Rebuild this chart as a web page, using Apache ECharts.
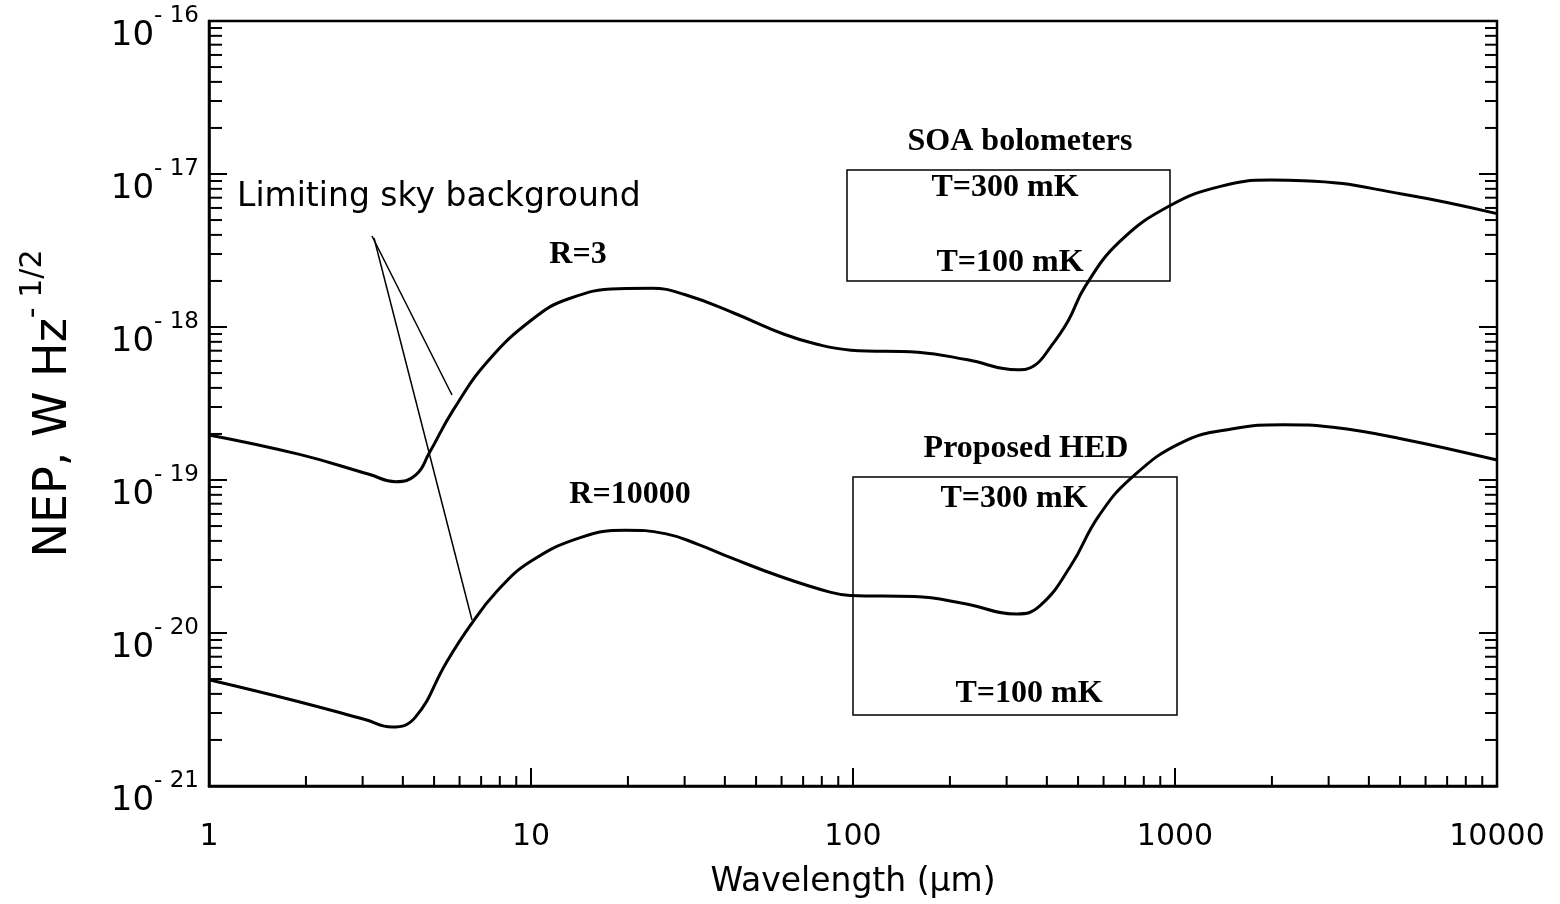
<!DOCTYPE html>
<html>
<head>
<meta charset="utf-8">
<script src="https://cdn.jsdelivr.net/npm/echarts@6/dist/echarts.min.js"></script>
<style>
  html, body { margin: 0; padding: 0; background: #fff; }
  #chart { width: 1560px; height: 904px; }
</style>
</head>
<body>
<div id="chart"></div>
<script>
// ---- Data ----
const wavelengthR3 = [1.0, 1.91, 3.14, 3.80, 4.39, 4.83, 5.72, 7.33, 10.2, 13.1, 18.7, 23.7, 30.0, 42.8, 61.1, 77.8, 98.5, 159, 227, 324, 364, 412, 466, 525, 673, 966, 1384, 1982, 2507, 5118, 10000];
const nepR3 = [1.97e-19, 1.47e-19, 1.09e-19, 9.75e-20, 1.08e-19, 1.50e-19, 2.84e-19, 5.95e-19, 1.14e-18, 1.53e-18, 1.78e-18, 1.79e-18, 1.63e-18, 1.23e-18, 8.97e-19, 7.68e-19, 7.06e-19, 6.84e-19, 6.10e-19, 5.26e-19, 5.56e-19, 7.48e-19, 1.10e-18, 1.83e-18, 3.61e-18, 6.22e-18, 8.30e-18, 9.12e-18, 9.05e-18, 7.38e-18, 5.51e-18];

const wavelengthR10000 = [1.0, 1.85, 3.05, 3.70, 4.37, 5.45, 6.44, 7.85, 9.96, 14.3, 19.6, 26.1, 33.0, 41.7, 59.5, 84.8, 98, 155, 221, 323, 381, 474, 578, 735, 1056, 1513, 2163, 3094, 4988, 10000];
const nepR10000 = [4.95e-21, 3.61e-21, 2.72e-21, 2.43e-21, 2.81e-21, 6.37e-21, 1.10e-20, 1.88e-20, 2.93e-20, 4.22e-20, 4.70e-20, 4.46e-20, 3.80e-20, 3.11e-20, 2.34e-20, 1.85e-20, 1.76e-20, 1.73e-20, 1.56e-20, 1.33e-20, 1.51e-20, 2.74e-20, 5.77e-20, 1.04e-19, 1.77e-19, 2.16e-19, 2.30e-19, 2.21e-19, 1.87e-19, 1.35e-19];

// axis ranges (decades) and tick structure
const xMin = 1, xMax = 10000;
const yMin = 1e-21, yMax = 1e-16;
const xDecades = [1, 10, 100, 1000];
const yDecades = [1e-21, 1e-20, 1e-19, 1e-18, 1e-17];
const minorMultipliers = [2, 3, 4, 5, 6, 7, 8, 9];
const xTitle = 'Wavelength (\u03bcm)';
const yTitleMain = 'NEP, W Hz';
const yTitleSup = '- 1/2';

// ---- build helpers (log10 coordinates on value axes) ----
const L = Math.log10;
const pairs = (xs, ys) => xs.map((x, i) => [L(x), L(ys[i])]);
const lxMin = L(xMin), lxMax = L(xMax), lyMin = Math.round(L(yMin)), lyMax = Math.round(L(yMax));
const xMinorTicks = [];
xDecades.forEach(d => minorMultipliers.forEach(m => xMinorTicks.push([L(d * m), lyMin])));
const yMinorLeft = [];
const yMinorRight = [];
yDecades.forEach(d => minorMultipliers.forEach(m => {
  yMinorLeft.push([lxMin, L(d * m)]);
  yMinorRight.push([lxMax, L(d * m)]);
}));
const yMajorRight = yDecades.concat([yMax]).map(v => [lxMax, Math.round(L(v))]);

function tickSeries(data, dx, dy, len) {
  return {
    type: 'custom',
    coordinateSystem: 'cartesian2d',
    silent: true,
    clip: false,
    z: 5,
    data: data,
    renderItem: function (params, api) {
      const p = api.coord([api.value(0), api.value(1)]);
      return {
        type: 'line',
        shape: { x1: p[0], y1: p[1], x2: p[0] + dx * len, y2: p[1] + dy * len },
        style: { stroke: '#000', lineWidth: 2 }
      };
    }
  };
}

const chart = echarts.init(document.getElementById('chart'), null, { renderer: 'canvas' });

const serifBold = 'bold 32px "Liberation Serif", "Times New Roman", serif';

chart.setOption({
  backgroundColor: '#fff',
  animation: false,
  grid: { left: 209, right: 63, top: 21, bottom: 117, show: true, borderColor: '#000', borderWidth: 2.5, backgroundColor: 'transparent' },
  xAxis: {
    type: 'value', min: lxMin, max: lxMax, interval: 1,
    name: xTitle, nameLocation: 'middle', nameGap: 80,
    nameTextStyle: { fontFamily: 'DejaVu Sans', fontSize: 33, color: '#000' },
    axisLine: { show: true, lineStyle: { color: '#000', width: 2.5 } },
    axisTick: { show: true, inside: true, length: 18, lineStyle: { color: '#000', width: 2 } },
    axisLabel: {
      margin: 36, fontFamily: 'DejaVu Sans', fontSize: 30, color: '#000',
      formatter: function (v) { return String(Math.round(Math.pow(10, v))); }
    },
    splitLine: { show: false }
  },
  yAxis: {
    type: 'value', min: lyMin, max: lyMax, interval: 1,
    name: '{a|' + yTitleMain + '}{s|' + yTitleSup + '}',
    nameLocation: 'middle', nameGap: 132, nameRotate: 90,
    nameTextStyle: {
      color: '#000',
      rich: {
        a: { fontFamily: 'DejaVu Sans', fontSize: 46, color: '#000', padding: [20, 0, 0, 0] },
        s: { fontFamily: 'DejaVu Sans', fontSize: 30, color: '#000', padding: [0, 0, 22, 0] }
      }
    },
    axisLine: { show: true, lineStyle: { color: '#000', width: 2.5 } },
    axisTick: { show: true, inside: true, length: 18, lineStyle: { color: '#000', width: 2 } },
    axisLabel: {
      margin: 10,
      formatter: function (v) {
        return '{b|10}{e|- ' + (-Math.round(v)) + '}';
      },
      rich: {
        b: { fontFamily: 'DejaVu Sans', fontSize: 34, color: '#000', padding: [30, 0, 0, 0] },
        e: { fontFamily: 'DejaVu Sans', fontSize: 23, color: '#000', padding: [0, 0, 10, 0] }
      }
    },
    splitLine: { show: false }
  },
  series: [
    {
      name: 'R=3', type: 'line', data: pairs(wavelengthR3, nepR3),
      showSymbol: false, smooth: 0.45, z: 10,
      lineStyle: { color: '#000', width: 3 }
    },
    {
      name: 'R=10000', type: 'line', data: pairs(wavelengthR10000, nepR10000),
      showSymbol: false, smooth: 0.45, z: 10,
      lineStyle: { color: '#000', width: 3 }
    },
    tickSeries(xMinorTicks, 0, -1, 10),
    tickSeries(yMinorLeft, 1, 0, 13),
    tickSeries(yMinorRight, -1, 0, 12),
    tickSeries(yMajorRight, -1, 0, 18)
  ],
  graphic: [
    { type: 'text', x: 237, y: 197, style: { text: 'Limiting sky background', font: '33px "DejaVu Sans", sans-serif', fill: '#000', align: 'left', verticalAlign: 'middle' } },
    { type: 'line', shape: { x1: 372, y1: 236, x2: 452, y2: 395 }, style: { stroke: '#000', lineWidth: 1.5 } },
    { type: 'line', shape: { x1: 374, y1: 238, x2: 472, y2: 620 }, style: { stroke: '#000', lineWidth: 1.5 } },
    { type: 'text', x: 578, y: 255, style: { text: 'R=3', font: serifBold, fill: '#000', align: 'center', verticalAlign: 'middle' } },
    { type: 'text', x: 630, y: 495, style: { text: 'R=10000', font: serifBold, fill: '#000', align: 'center', verticalAlign: 'middle' } },
    { type: 'text', x: 1020, y: 142, style: { text: 'SOA bolometers', font: serifBold, fill: '#000', align: 'center', verticalAlign: 'middle' } },
    { type: 'rect', shape: { x: 847, y: 170, width: 323, height: 111 }, style: { fill: 'none', stroke: '#000', lineWidth: 1.5 } },
    { type: 'text', x: 1005, y: 188, style: { text: 'T=300 mK', font: serifBold, fill: '#000', align: 'center', verticalAlign: 'middle' } },
    { type: 'text', x: 1010, y: 263, style: { text: 'T=100 mK', font: serifBold, fill: '#000', align: 'center', verticalAlign: 'middle' } },
    { type: 'text', x: 1026, y: 449, style: { text: 'Proposed HED', font: serifBold, fill: '#000', align: 'center', verticalAlign: 'middle' } },
    { type: 'rect', shape: { x: 853, y: 477, width: 324, height: 238 }, style: { fill: 'none', stroke: '#000', lineWidth: 1.5 } },
    { type: 'text', x: 1014, y: 499, style: { text: 'T=300 mK', font: serifBold, fill: '#000', align: 'center', verticalAlign: 'middle' } },
    { type: 'text', x: 1029, y: 694, style: { text: 'T=100 mK', font: serifBold, fill: '#000', align: 'center', verticalAlign: 'middle' } }
  ]
});
</script>
</body>
</html>
